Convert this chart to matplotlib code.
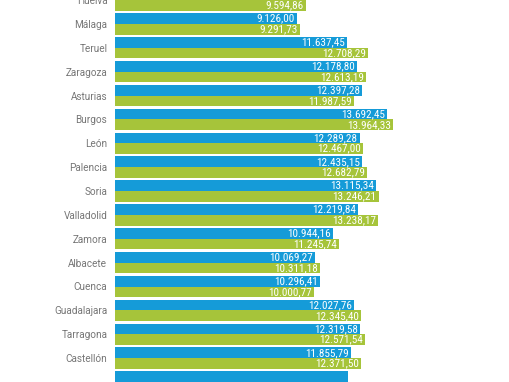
#!/usr/bin/env python3
"""Horizontal paired bar chart by province (blue vs green series)."""
import numpy as np
import matplotlib
matplotlib.use("Agg")
import matplotlib.pyplot as plt
from matplotlib import font_manager

# row 0 and the last row are cut off by the frame in the reference
provinces = ["Huelva", "Málaga", "Teruel", "Zaragoza", "Asturias", "Burgos",
             "León", "Palencia", "Soria", "Valladolid", "Zamora", "Albacete",
             "Cuenca", "Guadalajara", "Tarragona", "Castellón", ""]
blue_vals = [np.nan, 9126.00, 11637.45, 12178.80, 12397.28, 13692.45,
             12289.28, 12435.15, 13115.34, 12219.84, 10944.16, 10069.27,
             10296.41, 12027.76, 12319.58, 11855.79, 11690.00]
green_vals = [9594.86, 9291.73, 12708.29, 12613.19, 11987.59, 13964.33,
              12467.00, 12682.79, 13246.21, 13238.17, 11245.74, 10311.18,
              10000.77, 12345.40, 12571.54, 12371.50, np.nan]
blue_labeled = [True] * 16 + [False]

BLUE = "#159bd8"
GREEN = "#a6c43a"


def _font(names):
    have = {f.name for f in font_manager.fontManager.ttflist}
    for n in names:
        if n in have:
            return n
    return "DejaVu Sans"


num_font = _font(["Liberation Sans Narrow", "Roboto Condensed", "Roboto"])
lab_font = _font(["Roboto", "Lato", "DejaVu Sans"])


def es(v: float) -> str:
    s = f"{v:,.2f}"
    return s.replace(",", "X").replace(".", ",").replace("X", ".")


def main():
    fig = plt.figure(figsize=(5.10, 3.82), dpi=100)
    ax = fig.add_axes([115 / 510, 0, 390 / 510, 1])
    y = np.arange(len(provinces))
    h = 0.45
    ax.barh(y - h / 2, blue_vals, height=h, color=BLUE)
    ax.barh(y + h / 2, green_vals, height=h, color=GREEN)

    pad = 2 * 19600 / 390
    for i in y:
        b, g = blue_vals[i], green_vals[i]
        if not np.isnan(b) and blue_labeled[i]:
            ax.text(b - pad, i - h / 2, es(b), ha="right", va="center",
                    color="white", fontsize=8, family=num_font)
        if not np.isnan(g):
            ax.text(g - pad, i + h / 2, es(g), ha="right", va="center",
                    color="white", fontsize=8, family=num_font)

    ax.set_xlim(0, 19600)
    ax.set_ylim(15.613, 0.0334)
    ax.set_yticks(y)
    ax.set_yticklabels(provinces, color="#767676", fontsize=7.2,
                       family=lab_font)
    ax.tick_params(axis="y", length=0, pad=5.5)
    ax.set_xticks([])
    for s in ax.spines.values():
        s.set_visible(False)
    fig.savefig("out.png", dpi=100)


if __name__ == '__main__':
    main()
